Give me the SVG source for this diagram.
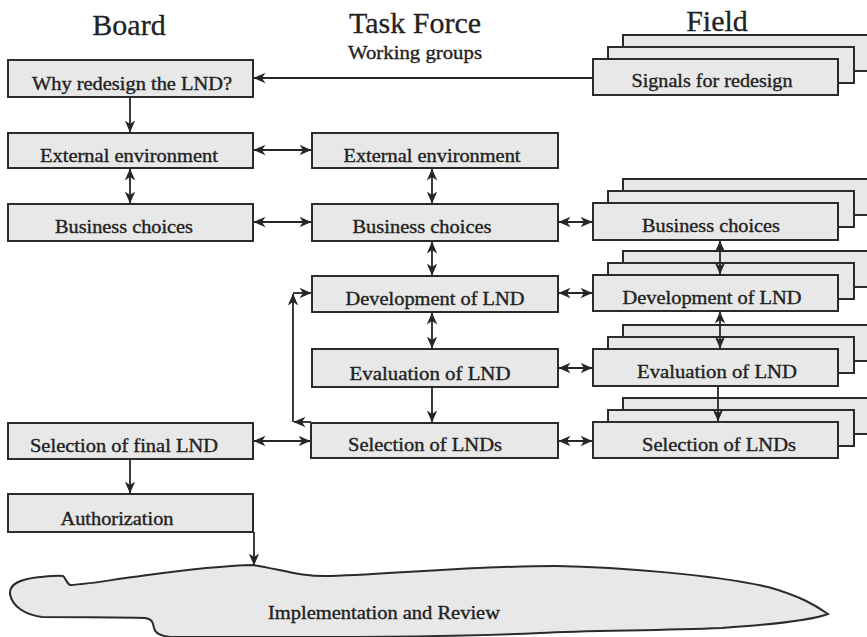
<svg xmlns="http://www.w3.org/2000/svg" width="867" height="637" viewBox="0 0 867 637">
  <style>
    .box { fill: #e8e8e8; stroke: #2b2b2b; stroke-width: 2; }
    .lbl { font-family: "Liberation Serif", "Times New Roman", serif; font-size: 18px; fill: #222222; stroke: #222222; stroke-width: 0.35; text-anchor: middle; }
    .head { font-family: "Liberation Serif", "Times New Roman", serif; font-size: 30px; fill: #222222; stroke: #222222; stroke-width: 0.3; text-anchor: middle; }
    .sub { font-family: "Liberation Serif", "Times New Roman", serif; font-size: 18px; fill: #222222; stroke: #222222; stroke-width: 0.35; text-anchor: middle; }
    .ln { fill: none; stroke: #262626; stroke-width: 1.8; }
    .one { marker-end: url(#ah); }
    .two { marker-start: url(#ah); marker-end: url(#ah); }
  </style>
  <defs>
    <marker id="ah" viewBox="0 0 12 12" refX="11.5" refY="6" markerWidth="12" markerHeight="12" markerUnits="userSpaceOnUse" orient="auto-start-reverse">
      <path d="M0,0.8 L12,6 L0,11.2 L3.5,6 z" fill="#262626"/>
    </marker>
  </defs>

  <rect width="867" height="637" fill="#ffffff"/>

  <!-- column headings -->
  <g id="headings">
    <text class="head" x="129" y="35">Board</text>
    <text class="head" x="415" y="33">Task Force</text>
    <text class="sub" x="415" y="59" textLength="134" lengthAdjust="spacingAndGlyphs">Working groups</text>
    <text class="head" x="717" y="31">Field</text>
  </g>

  <!-- Board column -->
  <g id="board-why">
    <rect class="box" x="8" y="60" width="245" height="37"/>
    <text class="lbl" x="132" y="90" textLength="200" lengthAdjust="spacingAndGlyphs">Why redesign the LND?</text>
  </g>
  <g id="board-external">
    <rect class="box" x="8" y="133" width="245" height="35"/>
    <text class="lbl" x="129" y="162" textLength="178" lengthAdjust="spacingAndGlyphs">External environment</text>
  </g>
  <g id="board-business">
    <rect class="box" x="8" y="204" width="245" height="37"/>
    <text class="lbl" x="124" y="233" textLength="138" lengthAdjust="spacingAndGlyphs">Business choices</text>
  </g>
  <g id="board-selection">
    <rect class="box" x="8" y="423" width="245" height="36"/>
    <text class="lbl" x="124" y="452" textLength="188" lengthAdjust="spacingAndGlyphs">Selection of final LND</text>
  </g>
  <g id="board-authorization">
    <rect class="box" x="8" y="494" width="245" height="38"/>
    <text class="lbl" x="117" y="525" textLength="113" lengthAdjust="spacingAndGlyphs">Authorization</text>
  </g>

  <!-- Task Force column -->
  <g id="tf-external">
    <rect class="box" x="312" y="133" width="246" height="35"/>
    <text class="lbl" x="432" y="162" textLength="177" lengthAdjust="spacingAndGlyphs">External environment</text>
  </g>
  <g id="tf-business">
    <rect class="box" x="312" y="204" width="246" height="37"/>
    <text class="lbl" x="422" y="233" textLength="139" lengthAdjust="spacingAndGlyphs">Business choices</text>
  </g>
  <g id="tf-development">
    <rect class="box" x="312" y="276" width="246" height="36"/>
    <text class="lbl" x="435" y="305" textLength="179" lengthAdjust="spacingAndGlyphs">Development of LND</text>
  </g>
  <g id="tf-evaluation">
    <rect class="box" x="312" y="349" width="246" height="38"/>
    <text class="lbl" x="430" y="380" textLength="161" lengthAdjust="spacingAndGlyphs">Evaluation of LND</text>
  </g>
  <g id="tf-selection">
    <rect class="box" x="311" y="423" width="247" height="35"/>
    <text class="lbl" x="425" y="451" textLength="154" lengthAdjust="spacingAndGlyphs">Selection of LNDs</text>
  </g>

  <!-- Field column: stacked boxes (back, middle, front) -->
  <g id="field-signals">
    <rect class="box" x="623" y="35" width="250" height="36"/>
    <rect class="box" x="608" y="47" width="246" height="36"/>
    <rect class="box" x="593" y="59" width="245" height="36"/>
    <text class="lbl" x="712" y="87" textLength="161" lengthAdjust="spacingAndGlyphs">Signals for redesign</text>
  </g>
  <g id="field-business">
    <rect class="box" x="623" y="179" width="250" height="36"/>
    <rect class="box" x="608" y="191" width="246" height="36"/>
    <rect class="box" x="593" y="203" width="245" height="37"/>
    <text class="lbl" x="711" y="232" textLength="138" lengthAdjust="spacingAndGlyphs">Business choices</text>
  </g>
  <g id="field-development">
    <rect class="box" x="623" y="251" width="250" height="36"/>
    <rect class="box" x="608" y="263" width="246" height="36"/>
    <rect class="box" x="593" y="275" width="245" height="36"/>
    <text class="lbl" x="712" y="304" textLength="179" lengthAdjust="spacingAndGlyphs">Development of LND</text>
  </g>
  <g id="field-evaluation">
    <rect class="box" x="623" y="325" width="250" height="36"/>
    <rect class="box" x="608" y="337" width="246" height="36"/>
    <rect class="box" x="593" y="349" width="245" height="37"/>
    <text class="lbl" x="717" y="378" textLength="160" lengthAdjust="spacingAndGlyphs">Evaluation of LND</text>
  </g>
  <g id="field-selection">
    <rect class="box" x="623" y="398" width="250" height="36"/>
    <rect class="box" x="608" y="410" width="246" height="36"/>
    <rect class="box" x="593" y="422" width="245" height="36"/>
    <text class="lbl" x="719" y="451" textLength="154" lengthAdjust="spacingAndGlyphs">Selection of LNDs</text>
  </g>

  <!-- Implementation and Review outline -->
  <g id="implementation">
    <path class="box" d="M253,565 C280,569 300,577 330,576 C400,574 470,566 556,566 C620,567 715,575 768,587 C800,596 815,605 828,614 C812,620 780,624 722,628 C650,631 590,630 540,633 C470,636 400,637 300,637 L170,637 C160,636 155,633 154,628 C153,622 152,619 145,618 C110,617 70,617 42,617 C25,615 12,606 10,594 C9,584 20,579 40,577 C50,576 58,575 63,576 C66,578 66,583 70,585 C90,584 110,580 133,577 C170,572 210,566 253,565 Z"/>
    <text class="lbl" x="384" y="619" textLength="232" lengthAdjust="spacingAndGlyphs">Implementation and Review</text>
  </g>

  <!-- connectors -->
  <g id="connectors">
    <path class="ln one" d="M593,78 H254"/>
    <path class="ln one" d="M130,97 V132"/>
    <path class="ln two" d="M254,150 H311"/>
    <path class="ln two" d="M130,169 V203"/>
    <path class="ln two" d="M254,222 H311"/>
    <path class="ln two" d="M432,169 V203"/>
    <path class="ln two" d="M559,222 H592"/>
    <path class="ln two" d="M432,242 V275"/>
    <path class="ln two" d="M720,241 V274"/>
    <path class="ln two" d="M559,293 H592"/>
    <path class="ln two" d="M432,313 V348"/>
    <path class="ln two" d="M720,312 V348"/>
    <path class="ln two" d="M559,368 H592"/>
    <path class="ln one" d="M432,388 V422"/>
    <path class="ln one" d="M718,387 V421"/>
    <path class="ln two" d="M559,441 H592"/>
    <path class="ln two" d="M254,441 H310"/>
    <!-- feedback loop from selection back to development -->
    <path class="ln one" d="M311,422 H294"/>
    <path class="ln one" d="M293,422 V294"/>
    <path class="ln one" d="M293,293 H311"/>
    <path class="ln one" d="M130,460 V493"/>
    <path class="ln one" d="M254,532 V565"/>
  </g>
</svg>
